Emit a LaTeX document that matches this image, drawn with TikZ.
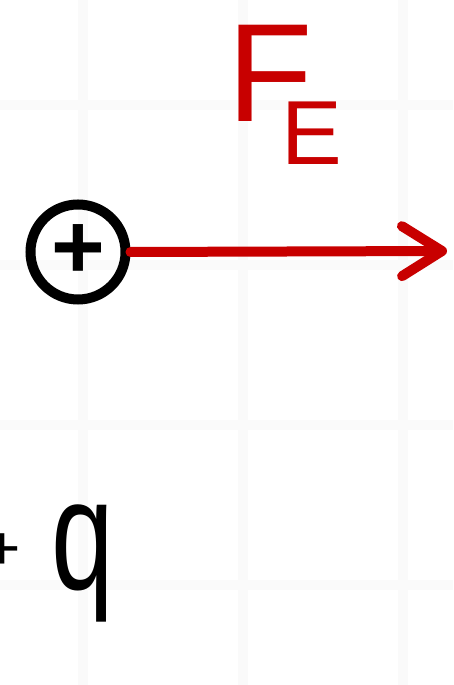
\documentclass[tikz,border=0pt]{standalone}
\usepackage{fontspec}
\setmainfont{Liberation Sans}
\usetikzlibrary{arrows.meta}
\definecolor{fred}{HTML}{C80000}
\definecolor{gridc}{HTML}{FAFAFA}
\begin{document}
\begin{tikzpicture}[x=1pt,y=1pt,
  gridline/.style={draw=gridc,line width=10pt},
  chargebox/.style={circle,draw=black,line width=10pt,minimum size=95pt,inner sep=0pt,font=\fontsize{92}{92}\selectfont\bfseries},
  forcearrow/.style={draw=fred,line width=10pt,line cap=round,-{Straight Barb[length=40pt,width=50pt,line cap=round,line join=round]}},
  lbl/.style={inner sep=0pt,anchor=base west}]
\useasboundingbox (0,0) rectangle (453,685);
\fill[white] (0,0) rectangle (453,685);
% faint grid
\foreach \gx in {83,243,403} \draw[gridline] (\gx,0) -- (\gx,685);
\foreach \gy in {100,260,420,580} \draw[gridline] (0,\gy) -- (453,\gy);
% charge
\node[chargebox] (charge) at (78,433) {\raisebox{-3pt}{+}};
\coordinate (tip) at (447,434);
\draw[forcearrow] (charge.east) -- (tip);
% force label
\node[lbl,text=fred,font=\fontsize{140}{140}\selectfont] (fe) at (227,563) {F\kern-31pt\raisebox{-43pt}{\fontsize{91}{91}\selectfont E}};
% +q label
\node[lbl,font=\fontsize{150}{150}\selectfont] (ql) at (-16,95) {\raisebox{20pt}{\fontsize{62}{62}\selectfont +}\hspace{31pt}\scalebox{0.75}[1.05]{q}};
\end{tikzpicture}
\end{document}
